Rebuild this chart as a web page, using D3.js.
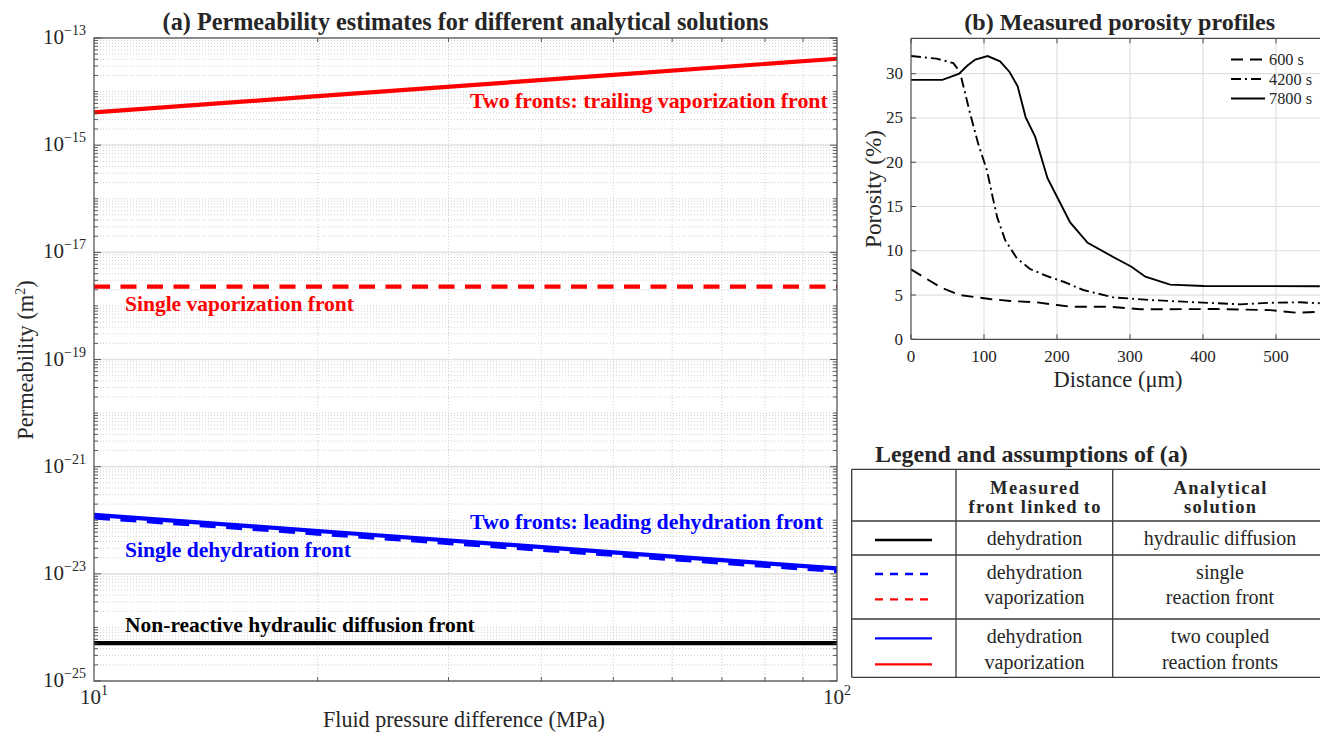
<!DOCTYPE html>
<html><head><meta charset="utf-8">
<script src="https://cdn.jsdelivr.net/npm/d3@7"></script>
<style>body{margin:0;background:#fff;overflow:hidden} svg{display:block} text{font-family:"Liberation Serif","DejaVu Serif","Times New Roman",serif;fill:#262626}</style>
</head><body><svg id="c" width="1320" height="732"></svg>
<script>
// ---------- Panel (a) data ----------
const pressure = [10, 20, 50, 100];                       // MPa
const kTrailingVap = [4.1e-15, 8.2e-15, 2.05e-14, 4.1e-14]; // red solid
const kSingleVap   = [2.3e-18, 2.3e-18, 2.3e-18, 2.3e-18];  // red dashed
const kLeadingDehy = [1.26e-22, 6.3e-23, 2.52e-23, 1.26e-23]; // blue solid
const kSingleDehy  = [1.13e-22, 5.65e-23, 2.26e-23, 1.13e-23]; // blue dashed
const kHydraulic   = [5.1e-25, 5.1e-25, 5.1e-25, 5.1e-25];  // black
const yExpTicksA = [-25, -23, -21, -19, -17, -15, -13];
const xExpTicksA = [1, 2];
const labelsA = ["Two fronts: trailing vaporization front","Single vaporization front",
  "Two fronts: leading dehydration front","Single dehydration front","Non-reactive hydraulic diffusion front"];

// ---------- Panel (b) data ----------
const dist600 = [0, 40, 67, 108, 136, 172, 200, 218, 273, 314, 419, 492, 528, 560];
const por600  = [7.9, 5.9, 5.0, 4.55, 4.33, 4.18, 3.87, 3.68, 3.68, 3.39, 3.42, 3.3, 3.0, 3.1];
const dist4200 = [0, 35, 58, 67, 81, 92, 104, 112, 118, 129, 145, 163, 186, 209, 236, 277, 327, 373, 419, 451, 492, 533, 560];
const por4200  = [32.0, 31.7, 31.2, 30.2, 25.5, 22.1, 19.1, 16.0, 13.8, 11.2, 9.15, 7.94, 7.15, 6.5, 5.57, 4.74, 4.44, 4.25, 4.07, 3.95, 4.13, 4.18, 4.07];
const dist7800 = [0, 43, 56, 66, 77, 88, 105, 122, 135, 146, 157, 170, 187, 200, 218, 242, 277, 302, 321, 355, 401, 560];
const por7800  = [29.3, 29.3, 29.7, 30.0, 30.9, 31.6, 32.0, 31.4, 30.2, 28.6, 25.1, 22.9, 18.2, 16.1, 13.2, 10.9, 9.3, 8.2, 7.07, 6.17, 6.02, 6.0];
const xTicksB = [0, 100, 200, 300, 400, 500];
const yTicksB = [0, 5, 10, 15, 20, 25, 30];
const legendB = ["600 s", "4200 s", "7800 s"];

// ---------- Table data ----------
const tableHeaders = [["Measured","front linked to"],["Analytical","solution"]];
const tableRows = [
  {front:["dehydration"], sol:["hydraulic diffusion"]},
  {front:["dehydration","vaporization"], sol:["single","reaction front"]},
  {front:["dehydration","vaporization"], sol:["two coupled","reaction fronts"]}
];

const svg = d3.select("#c");
const AX = "#4a4a4a";
function fit(t, w){ const n=t.node(); const fs=parseFloat(t.attr("font-size")); const L=n.getComputedTextLength(); t.attr("font-size", fs*w/L); return t; }

// ================= Panel (a) =================
const A = {L:94, R:837, T:38, B:681};
const xA = d3.scaleLog().domain([10,100]).range([A.L,A.R]);
const yA = d3.scaleLog().domain([1e-25,1e-13]).range([A.B,A.T]);
const gA = svg.append("g");
svg.append("defs").html(`<clipPath id="ca"><rect x="${A.L}" y="${A.T}" width="${A.R-A.L}" height="${A.B-A.T}"/></clipPath>
<clipPath id="cb"><rect x="911" y="38" width="420" height="302"/></clipPath>`);

const minorY = [];
for (let e=-25; e<-13; e++) for (let k=1;k<=9;k++){ const v=k*Math.pow(10,e); if(!(k===1 && yExpTicksA.includes(e))) minorY.push(v); }
const minorX = [20,30,40,50,60,70,80,90];
gA.selectAll(".mgy").data(minorY).join("line").attr("x1",A.L).attr("x2",A.R)
  .attr("y1",d=>yA(d)).attr("y2",d=>yA(d)).attr("stroke","#c4c4c4").attr("stroke-width",0.8).attr("stroke-dasharray","1,2");
gA.selectAll(".mgx").data(minorX).join("line").attr("y1",A.T).attr("y2",A.B)
  .attr("x1",d=>xA(d)).attr("x2",d=>xA(d)).attr("stroke","#c4c4c4").attr("stroke-width",0.8).attr("stroke-dasharray","1,2");
gA.selectAll(".Mgy").data(yExpTicksA).join("line").attr("x1",A.L).attr("x2",A.R)
  .attr("y1",d=>yA(Math.pow(10,d))).attr("y2",d=>yA(Math.pow(10,d))).attr("stroke","#e3e3e3").attr("stroke-width",1.6);

const lineA = d3.line().x(d=>xA(d[0])).y(d=>yA(d[1]));
const gl = gA.append("g").attr("clip-path","url(#ca)");
function drawA(vals, color, dash){
  gl.append("path").attr("d", lineA(pressure.map((p,i)=>[p,vals[i]]))).attr("fill","none")
    .attr("stroke",color).attr("stroke-width",4.2).attr("stroke-dasharray",dash||null);
}
drawA(kSingleDehy,"#0000ff","16,10.5");
drawA(kLeadingDehy,"#0000ff");
drawA(kHydraulic,"#000000");
drawA(kSingleVap,"#ff0000","16,10.5");
drawA(kTrailingVap,"#ff0000");

gA.append("rect").attr("x",A.L).attr("y",A.T).attr("width",A.R-A.L).attr("height",A.B-A.T).attr("fill","none").attr("stroke",AX).attr("stroke-width",1.2);
const tA = gA.append("g").attr("stroke",AX).attr("stroke-width",0.9);
minorY.forEach(v=>{ const y=yA(v); tA.append("line").attr("x1",A.L).attr("x2",A.L+4).attr("y1",y).attr("y2",y); tA.append("line").attr("x1",A.R).attr("x2",A.R-4).attr("y1",y).attr("y2",y); });
yExpTicksA.forEach(e=>{ const y=yA(Math.pow(10,e)); tA.append("line").attr("x1",A.L).attr("x2",A.L+7).attr("y1",y).attr("y2",y); tA.append("line").attr("x1",A.R).attr("x2",A.R-7).attr("y1",y).attr("y2",y); });
minorX.forEach(v=>{ const x=xA(v); tA.append("line").attr("x1",x).attr("x2",x).attr("y1",A.B).attr("y2",A.B-4); tA.append("line").attr("x1",x).attr("x2",x).attr("y1",A.T).attr("y2",A.T+4); });

yExpTicksA.forEach(e=>{
  const t = gA.append("text").attr("x",86).attr("y",yA(Math.pow(10,e))+6).attr("text-anchor","end").attr("font-size",21);
  t.append("tspan").text("10");
  t.append("tspan").attr("dy",-9).attr("font-size",14).text("\u2212"+Math.abs(e));
});
xExpTicksA.forEach(e=>{
  const t = gA.append("text").attr("x",xA(Math.pow(10,e))-14).attr("y",704).attr("font-size",21);
  t.append("tspan").text("10");
  t.append("tspan").attr("dy",-9).attr("font-size",14).text(e);
});
const ylab = gA.append("text").attr("transform","translate(33,360) rotate(-90)").attr("text-anchor","middle").attr("font-size",21);
ylab.append("tspan").text("Permeability (m");
ylab.append("tspan").attr("dy",-8).attr("font-size",14).text("2");
ylab.append("tspan").attr("dy",8).text(")");
fit(ylab,160);
fit(gA.append("text").attr("x",464).attr("y",726.5).attr("text-anchor","middle").attr("font-size",21).text("Fluid pressure difference (MPa)"),282);
fit(gA.append("text").attr("x",465.5).attr("y",30).attr("text-anchor","middle").attr("font-weight","bold").attr("font-size",20).text("(a) Permeability estimates for different analytical solutions"),606);

const labPos = [
  {x:470, y:108, w:358, c:"#ff0000"},
  {x:125, y:311, w:229, c:"#ff0000"},
  {x:470, y:529, w:353, c:"#0000ff"},
  {x:125, y:557, w:226, c:"#0000ff"},
  {x:125, y:632, w:350, c:"#000000"}
];
labelsA.forEach((s,i)=>{
  const p=labPos[i];
  fit(gA.append("text").attr("x",p.x).attr("y",p.y).attr("font-weight","bold").attr("font-size",18).style("fill",p.c).text(s),p.w);
});

// ================= Panel (b) =================
const B = {L:911, R:1349, T:38.3, B:339.3};
const xB = d3.scaleLinear().domain([0,600]).range([B.L,B.R]);
const yB = d3.scaleLinear().domain([0,34]).range([B.B,B.T]);
const gB = svg.append("g");
gB.selectAll(".gx").data(xTicksB.slice(1)).join("line").attr("x1",d=>xB(d)).attr("x2",d=>xB(d)).attr("y1",B.T).attr("y2",B.B).attr("stroke","#e0e0e0").attr("stroke-width",1.2);
gB.selectAll(".gy").data(yTicksB.slice(1)).join("line").attr("y1",d=>yB(d)).attr("y2",d=>yB(d)).attr("x1",B.L).attr("x2",B.R).attr("stroke","#e0e0e0").attr("stroke-width",1.2);
const lineB = d3.line().x(d=>xB(d[0])).y(d=>yB(d[1]));
const series = [
  {x:dist600, y:por600, dash:"12,7"},
  {x:dist4200, y:por4200, dash:"10,4,2,4"},
  {x:dist7800, y:por7800, dash:null}
];
const gbl = gB.append("g").attr("clip-path","url(#cb)");
series.forEach(s=>{
  gbl.append("path").attr("d", lineB(s.x.map((v,i)=>[v,s.y[i]]))).attr("fill","none").attr("stroke","#000").attr("stroke-width",1.9).attr("stroke-dasharray",s.dash);
});
gB.append("line").attr("x1",B.L).attr("x2",B.R).attr("y1",B.T).attr("y2",B.T).attr("stroke",AX).attr("stroke-width",1.2);
gB.append("line").attr("x1",B.L).attr("x2",B.R).attr("y1",B.B).attr("y2",B.B).attr("stroke",AX).attr("stroke-width",1.2);
gB.append("line").attr("x1",B.L).attr("x2",B.L).attr("y1",B.T).attr("y2",B.B).attr("stroke",AX).attr("stroke-width",1.2);
xTicksB.forEach(v=>{ const x=xB(v);
  gB.append("line").attr("x1",x).attr("x2",x).attr("y1",B.B).attr("y2",B.B-5).attr("stroke",AX);
  gB.append("line").attr("x1",x).attr("x2",x).attr("y1",B.T).attr("y2",B.T+5).attr("stroke",AX);
  gB.append("text").attr("x",x).attr("y",361.5).attr("text-anchor","middle").attr("font-size",17).text(v);
});
yTicksB.forEach(v=>{ const y=yB(v);
  gB.append("line").attr("x1",B.L).attr("x2",B.L+5).attr("y1",y).attr("y2",y).attr("stroke",AX);
  gB.append("text").attr("x",903).attr("y",y+5.5).attr("text-anchor","end").attr("font-size",17).text(v);
});
fit(gB.append("text").attr("x",1118).attr("y",386.5).attr("text-anchor","middle").attr("font-size",20).text("Distance (\u03bcm)"),129);
fit(gB.append("text").attr("transform","translate(881,189) rotate(-90)").attr("text-anchor","middle").attr("font-size",20).text("Porosity (%)"),118);
fit(gB.append("text").attr("x",1119.7).attr("y",30).attr("text-anchor","middle").attr("font-weight","bold").attr("font-size",20).text("(b) Measured porosity profiles"),311);
const legY = [59.5, 79, 98.5];
legendB.forEach((s,i)=>{
  gB.append("line").attr("x1",1231).attr("x2",1265).attr("y1",legY[i]).attr("y2",legY[i]).attr("stroke","#000").attr("stroke-width",1.9).attr("stroke-dasharray",series[i].dash);
  gB.append("text").attr("x",1269).attr("y",legY[i]+5.5).attr("font-size",16.3).text(s);
});

// ================= Table =================
const gT = svg.append("g");
fit(gT.append("text").attr("x",875).attr("y",461.5).attr("font-weight","bold").attr("font-size",20).text("Legend and assumptions of (a)"),313);
const hl = [469.3, 521, 555, 619, 677.3];
const TL = 851.7, TR = 1340;
hl.forEach(y=>gT.append("line").attr("x1",TL).attr("x2",TR).attr("y1",y).attr("y2",y).attr("stroke","#3a3a3a").attr("stroke-width",1.3));
[TL, 956, 1112.7].forEach(x=>gT.append("line").attr("x1",x).attr("x2",x).attr("y1",hl[0]).attr("y2",hl[4]).attr("stroke","#3a3a3a").attr("stroke-width",1.3));
const colC = [1034.5, 1220];
const hdrW = [[89,132],[93,72]];
tableHeaders.forEach((h,ci)=>{
  h.forEach((s,li)=>{
    gT.append("text").attr("x",colC[ci]).attr("y",[494,512.5][li]).attr("text-anchor","middle").attr("font-weight","bold")
      .attr("font-size",18.5).attr("textLength",hdrW[ci][li]).attr("lengthAdjust","spacing").text(s);
  });
});
const rowLineY = [[545],[579,604],[643,669]];
tableRows.forEach((r,ri)=>{
  r.front.forEach((s,li)=>gT.append("text").attr("x",colC[0]).attr("y",rowLineY[ri][li]).attr("text-anchor","middle").attr("font-size",20).text(s));
  r.sol.forEach((s,li)=>gT.append("text").attr("x",colC[1]).attr("y",rowLineY[ri][li]).attr("text-anchor","middle").attr("font-size",20).text(s));
});
const samples = [
  {y:540, c:"#000", d:null},
  {y:574, c:"#0000ff", d:"8,7"},
  {y:599.3, c:"#ff0000", d:"8,7"},
  {y:638.3, c:"#0000ff", d:null},
  {y:664.3, c:"#ff0000", d:null}
];
samples.forEach(s=>gT.append("line").attr("x1",875).attr("x2",932).attr("y1",s.y).attr("y2",s.y).attr("stroke",s.c).attr("stroke-width",2.3).attr("stroke-dasharray",s.d));
</script></body></html>
